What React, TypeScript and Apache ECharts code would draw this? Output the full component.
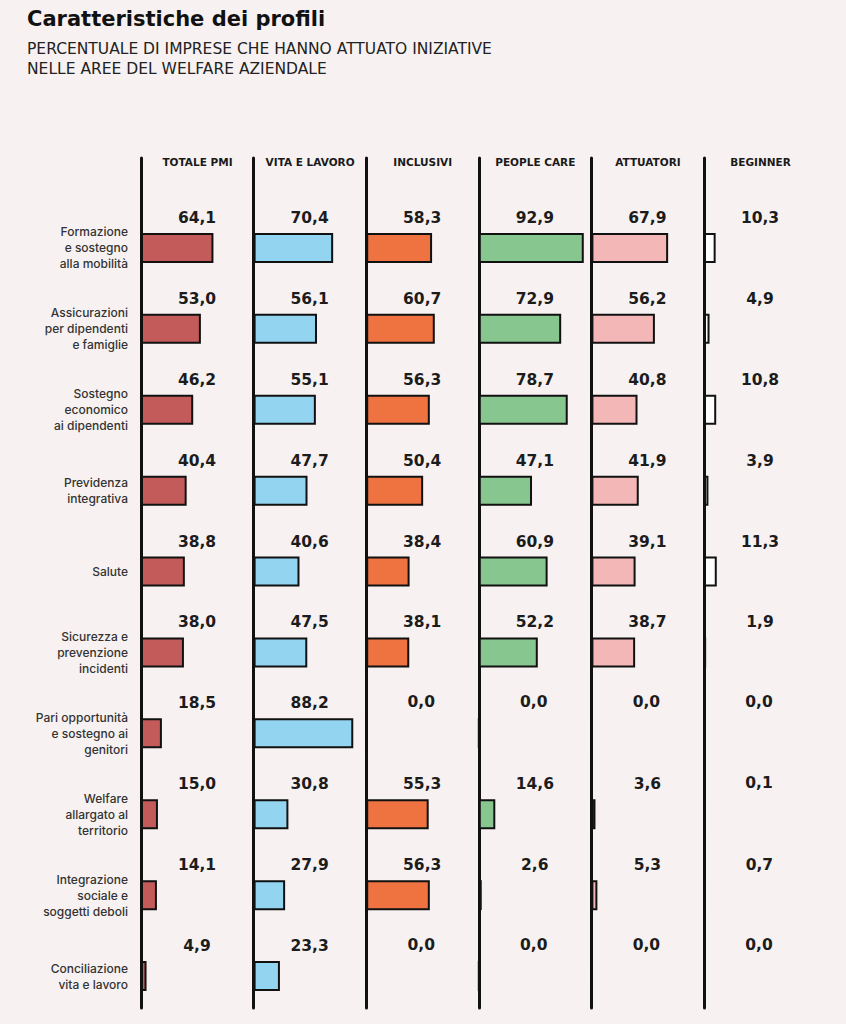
import React, { useEffect, useRef } from "react";
import * as echarts from "echarts";

const categories = [
  "Formazione\ne sostegno\nalla mobilità",
  "Assicurazioni\nper dipendenti\ne famiglie",
  "Sostegno\neconomico\nai dipendenti",
  "Previdenza\nintegrativa",
  "Salute",
  "Sicurezza e\nprevenzione\nincidenti",
  "Pari opportunità\ne sostegno ai\ngenitori",
  "Welfare\nallargato al\nterritorio",
  "Integrazione\nsociale e\nsoggetti deboli",
  "Conciliazione\nvita e lavoro",
];

const profiles = ["TOTALE PMI", "VITA E LAVORO", "INCLUSIVI", "PEOPLE CARE", "ATTUATORI", "BEGINNER"];

const totalePmi = [64.1, 53.0, 46.2, 40.4, 38.8, 38.0, 18.5, 15.0, 14.1, 4.9];
const vitaLavoro = [70.4, 56.1, 55.1, 47.7, 40.6, 47.5, 88.2, 30.8, 27.9, 23.3];
const inclusivi = [58.3, 60.7, 56.3, 50.4, 38.4, 38.1, 0.0, 55.3, 56.3, 0.0];
const peopleCare = [92.9, 72.9, 78.7, 47.1, 60.9, 52.2, 0.0, 14.6, 2.6, 0.0];
const attuatori = [67.9, 56.2, 40.8, 41.9, 39.1, 38.7, 0.0, 3.6, 5.3, 0.0];
const beginner = [10.3, 4.9, 10.8, 3.9, 11.3, 1.9, 0.0, 0.1, 0.7, 0.0];

const seriesValues = [totalePmi, vitaLavoro, inclusivi, peopleCare, attuatori, beginner];
const colors = ["#c45b5b", "#93d5f0", "#ee7341", "#87c78f", "#f4b7b7", "#ffffff"];

const FONT = "Inter, Roboto, 'Noto Sans', sans-serif";
const WIDE = "'DejaVu Sans', Verdana, sans-serif";

export default function App() {
  const ref = useRef<HTMLDivElement>(null);
  useEffect(() => {
    document.body.style.margin = "0";
    document.body.style.background = "#f7f2f1";
    const chart = echarts.init(ref.current!, null, { renderer: "svg" });
    const colLeft0 = 141;
    const colStep = 112.6;
    const colWidth = 113;
    const grids: any[] = [];
    const xAxes: any[] = [];
    const yAxes: any[] = [];
    const series: any[] = [];
    profiles.forEach((name, i) => {
      const left = colLeft0 + colStep * i;
      grids.push({ left, top: 207.5, width: colWidth, height: 809, containLabel: false });
      xAxes.push({
        gridIndex: i,
        type: "value",
        min: 0,
        max: 100,
        position: "top",
        name,
        nameLocation: "middle",
        nameGap: 40,
        nameTextStyle: { fontFamily: WIDE, fontWeight: 700, fontSize: 10.5, color: "#1a1a1a" },
        axisLine: { show: false },
        axisTick: { show: false },
        axisLabel: { show: false },
        splitLine: { show: false },
      });
      yAxes.push({
        gridIndex: i,
        type: "category",
        inverse: true,
        data: categories,
        axisLine: { show: false },
        axisTick: { show: false },
        axisLabel: {
          show: i === 0,
          margin: 13,
          fontFamily: FONT,
          fontSize: 12,
          fontWeight: 500,
          lineHeight: 16,
          color: "#333",
          align: "right",
        },
      });
      series.push({
        type: "bar",
        name,
        xAxisIndex: i,
        yAxisIndex: i,
        data: seriesValues[i],
        barWidth: 30,
        itemStyle: { color: colors[i], borderColor: "#111", borderWidth: 2 },
        label: {
          show: true,
          position: [56, -15],
          align: "center",
          verticalAlign: "middle",
          fontFamily: WIDE,
          fontWeight: 700,
          fontSize: 15.5,
          color: "#1c1c1c",
          formatter: (p: any) => Number(p.value).toFixed(1).replace(".", ","),
        },
      });
    });
    profiles.forEach((_, i) => {
      const left = colLeft0 + colStep * i;
      const gi = grids.length;
      grids.push({ left, top: 158, width: colWidth, height: 850 });
      xAxes.push({ gridIndex: gi, type: "value", show: false, min: 0, max: 1 });
      yAxes.push({
        gridIndex: gi,
        type: "value",
        min: 0,
        max: 1,
        axisLine: { show: true, lineStyle: { color: "#111", width: 3 } },
        axisTick: { show: false },
        axisLabel: { show: false },
        splitLine: { show: false },
      });
    });
    chart.setOption({
      animation: false,
      backgroundColor: "#f7f2f1",
      title: {
        text: "Caratteristiche dei profili",
        subtext: "PERCENTUALE DI IMPRESE CHE HANNO ATTUATO INIZIATIVE\nNELLE AREE DEL WELFARE AZIENDALE",
        left: 22,
        top: 3,
        itemGap: 10,
        textStyle: { fontFamily: WIDE, fontWeight: 700, fontSize: 21, color: "#111" },
        subtextStyle: { fontFamily: WIDE, fontSize: 15.5, lineHeight: 20, color: "#222" },
      },
      grid: grids,
      xAxis: xAxes,
      yAxis: yAxes,
      series,
    });
    return () => chart.dispose();
  }, []);
  return (
    <div
      ref={ref}
      style={{ position: "absolute", left: 0, top: 0, width: 846, height: 1024, background: "#f7f2f1" }}
    />
  );
}
